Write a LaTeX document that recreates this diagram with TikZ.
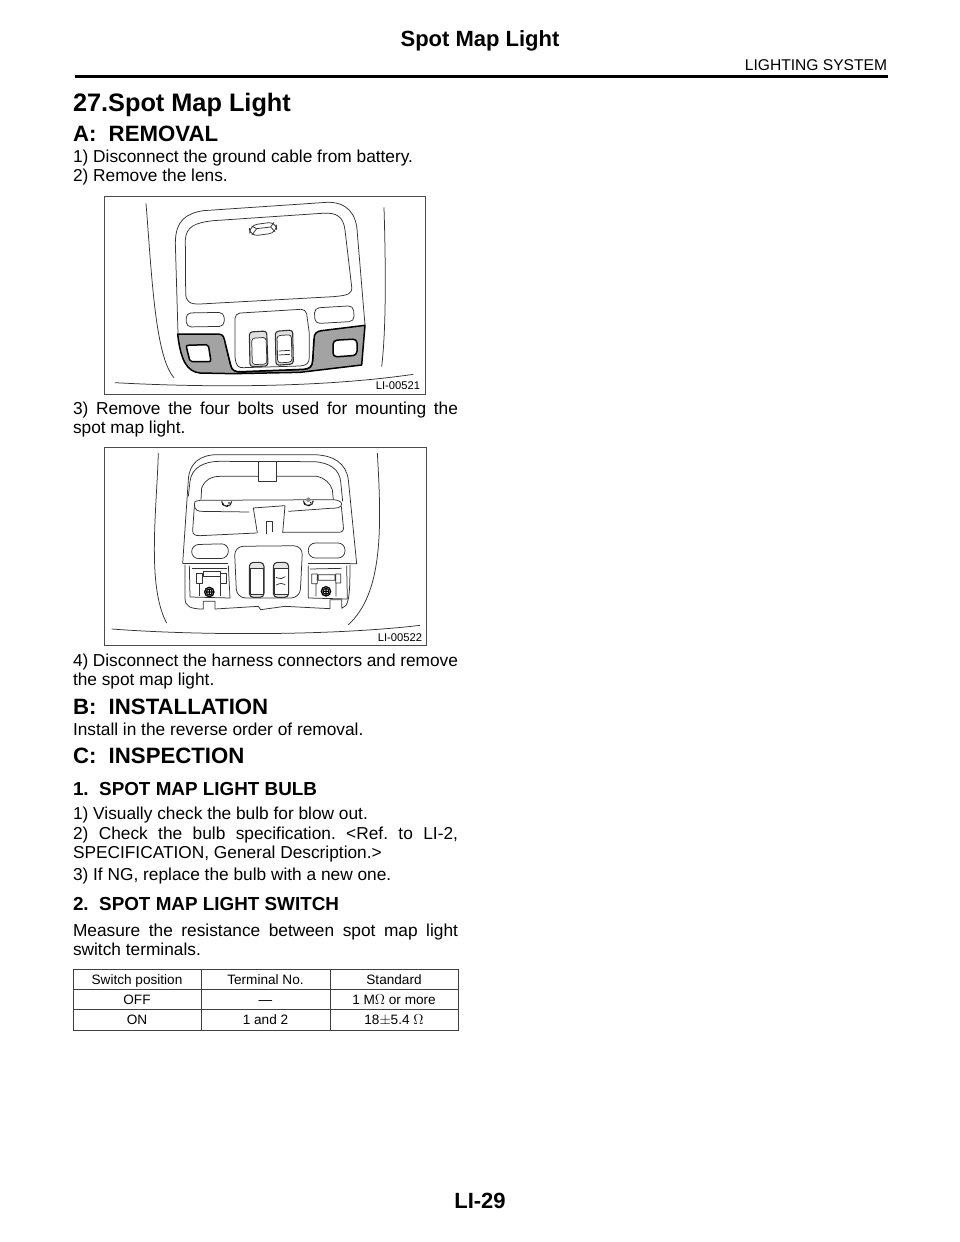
\documentclass[tikz,border=0pt]{standalone}
\usepackage{fontspec}
\setmainfont{Liberation Sans}
\usetikzlibrary{positioning}
\usepackage{tikz}
\newcommand{\Ohm}{$\Omega$}
\frenchspacing
\tikzset{
  every node/.style={inner sep=0pt,outer sep=0pt},
  body text/.style={anchor=base west,font=\fontsize{17.3}{19}\selectfont},
  pagehead/.style={font=\fontsize{22}{26}\selectfont\bfseries},
  section head/.style={anchor=base west,font=\fontsize{22.2}{26}\selectfont\bfseries},
  sub head/.style={anchor=base west,font=\fontsize{18.85}{22}\selectfont\bfseries},
  cell text/.style={anchor=base,font=\fontsize{13.6}{16}\selectfont},
  fig label/.style={anchor=base east,font=\fontsize{11.2}{14}\selectfont},
  fig frame/.style={draw=black!70,line width=0.9pt},
  thin art/.style={draw=black!80,line width=0.75pt,line join=round},
  lens art/.style={draw=black,line width=1.5pt,line join=round}
}
\begin{document}
\begin{tikzpicture}[x=1pt,y=-1pt]
  \useasboundingbox (0,0) rectangle (960,1242);
  \fill[white] (0,0) rectangle (960,1242);

  % page head
  \node[pagehead,anchor=base] (title) at (480,46) {Spot Map Light};
  \node[anchor=base east,font=\fontsize{15.6}{18}\selectfont] (chapter) at (887,70) {LIGHTING SYSTEM};
  \draw[line width=3.6pt] (75,76.5)--(888,76.5);

  \node[anchor=base west,font=\fontsize{25.3}{30}\selectfont\bfseries] (main) at (73,111) {27.Spot Map Light};
  \node[section head] (a) at (73,141) {A:\ \ REMOVAL};
  \node[body text] (a1) at (73,162) {1) Disconnect the ground cable from battery.};
  \node[body text] (a2) at (73,181) {2) Remove the lens.};
  \node[body text] (a3) at (73,414) {\makebox[385pt][s]{3) Remove the four bolts used for mounting the}};
  \node[body text] (a3b) at (73,433) {spot map light.};
  \node[body text] (a4) at (73,666) {\makebox[385pt][s]{4) Disconnect the harness connectors and remove}};
  \node[body text] (a4b) at (73,685) {the spot map light.};

  \node[section head] (b) at (73,714) {B:\ \ INSTALLATION};
  \node[body text] (b1) at (73,735) {Install in the reverse order of removal.};

  \node[section head] (c) at (73,763) {C:\ \ INSPECTION};
  \node[sub head] (c1) at (73,795) {1.\ \ SPOT MAP LIGHT BULB};
  \node[body text] (c11) at (73,819) {1) Visually check the bulb for blow out.};
  \node[body text] (c12) at (73,839) {\makebox[385pt][s]{2) Check the bulb specification. <Ref. to LI-2,}};
  \node[body text] (c12b) at (73,858) {SPECIFICATION, General Description.>};
  \node[body text] (c13) at (73,880) {3) If NG, replace the bulb with a new one.};
  \node[sub head] (c2) at (73,910) {2.\ \ SPOT MAP LIGHT SWITCH};
  \node[body text] (c21) at (73,936) {\makebox[385pt][s]{Measure the resistance between spot map light}};
  \node[body text] (c21b) at (73,955) {switch terminals.};

  % first figure
  \begin{scope}[shift={(100,190)},scale=1/3]
    \fill[white] (12,18) rectangle (975,612);
    \draw[fig frame] (12,18) rectangle (975,612);
    \draw[thin art] (138,40) .. controls (155,250) and (165,500) .. (222,563);
    \draw[thin art] (852,52) .. controls (858,250) and (858,420) .. (845,530);
    \draw[thin art] (45,578) .. controls (300,592) and (650,595) .. (940,553);
    \draw[thin art] (234,430) -- (226,160) .. controls (226,90) and (260,70) .. (310,62)
      -- (680,37) .. controls (740,35) and (770,70) .. (772,130) -- (795,405);
    \draw[thin art] (256,150) .. controls (258,110) and (285,98) .. (340,92) -- (665,70)
      .. controls (710,66) and (730,80) .. (735,120) -- (755,290)
      .. controls (757,312) and (745,316) .. (700,320) -- (300,342)
      .. controls (268,343) and (258,335) .. (257,310) -- cycle;
    \draw[thin art,rounded corners=8pt] (448,106) -- (528,95) -- (531,128) -- (450,139) -- cycle;
    \draw[thin art] (470,116) -- (512,111) (455,108) -- (470,116) (522,97) -- (512,111)
      (456,135) -- (470,116) (525,125) -- (512,111);
    \draw[thin art,rounded corners=5pt] (258,369) -- (372,367) -- (373,409) -- (259,411) -- cycle;
    \draw[thin art,rounded corners=5pt] (643,354) -- (760,347) -- (763,394) -- (645,401) -- cycle;
    \draw[thin art,rounded corners=5pt] (405,440) -- (405,370) -- (618,357) -- (628,430);
    % lens outline
    \draw[lens art,fill=black!36] (233,432) -- (355,432) .. controls (372,432) and (372,445) .. (376,460)
      -- (392,525) .. controls (396,542) and (405,546) .. (425,545) -- (610,538)
      .. controls (630,536) and (637,530) .. (638,510) -- (642,445)
      .. controls (643,430) and (650,424) .. (665,422) -- (795,406) -- (785,525)
      -- (600,547) -- (400,551) -- (300,549)
      .. controls (260,545) and (242,510) .. (233,432) -- cycle;
    \fill[white] (376,460) -- (392,525) .. controls (396,542) and (405,546) .. (425,545) -- (610,538)
      .. controls (630,536) and (637,530) .. (638,510) -- (642,445) -- (628,430) -- (405,440) -- cycle;
    \draw[lens art] (376,460) -- (392,525) .. controls (396,542) and (405,546) .. (425,545) -- (610,538)
      .. controls (630,536) and (637,530) .. (638,510) -- (642,445);
    \draw[thin art] (405,440) -- (405,500) .. controls (408,530) and (415,533) .. (430,533) -- (600,528)
      .. controls (620,526) and (628,520) .. (628,500) -- (628,430);
    \draw[lens art,fill=white,rounded corners=2pt] (258,466) -- (325,464) -- (333,515) -- (270,515) -- cycle;
    \draw[lens art,fill=white,rounded corners=4pt] (699,451) -- (771,447) -- (771,496) -- (699,501) -- cycle;
    % switches
    \draw[thin art,line width=1.1pt,fill=black!12,rounded corners=3pt] (448,426) -- (500,423) -- (504,528) -- (450,530) -- cycle;
    \draw[thin art,fill=white,rounded corners=3pt] (455,445) -- (498,442) -- (501,522) -- (457,524) -- cycle;
    \draw[thin art,line width=1.1pt,fill=black!12,rounded corners=3pt] (526,424) -- (578,420) -- (580,522) -- (528,526) -- cycle;
    \draw[thin art,fill=white,rounded corners=3pt] (531,437) -- (574,434) -- (576,516) -- (533,519) -- cycle;
    \draw[thin art] (536,483) -- (570,481) (536,495) -- (570,493);
    \node[fig label] (lbl1) at (960,598) {LI-00521};
  \end{scope}

  % second figure
  \begin{scope}[shift={(100,443)},scale=1/3]
    \fill[white] (12,14) rectangle (978,606);
    \draw[fig frame] (12,14) rectangle (978,606);
    \draw[thin art] (175,30) .. controls (170,200) and (140,430) .. (200,540);
    \draw[thin art] (832,30) .. controls (845,250) and (850,450) .. (745,545);
    \draw[thin art] (35,558) .. controls (300,578) and (700,578) .. (960,547);
    \draw[thin art] (248,362) -- (265,110) .. controls (268,60) and (300,36) .. (350,35)
      -- (640,35) .. controls (700,36) and (738,60) .. (745,110) -- (770,362) -- (750,362);
    \draw[thin art] (265,160) -- (270,115) .. controls (275,75) and (310,55) .. (360,55)
      -- (640,56) .. controls (690,58) and (718,80) .. (722,115) -- (728,175);
    \draw[thin art] (303,170) -- (305,135) .. controls (315,110) and (335,100) .. (360,100) -- (475,100)
      (528,100) -- (650,100) .. controls (675,105) and (690,120) .. (697,140) -- (700,170);
    \draw[thin art] (475,55) -- (475,115) -- (528,115) -- (528,55);
    \draw[thin art] (300,172) -- (700,170) .. controls (722,172) and (730,180) .. (722,190)
      .. controls (715,197) and (700,195) .. (690,196) -- (565,205);
    \draw[thin art] (448,207) -- (300,205) .. controls (285,203) and (280,190) .. (285,175) -- (300,172);
    \draw[thin art] (283,190) -- (278,262) .. controls (278,275) and (285,278) .. (300,278) -- (470,270)
      (548,268) -- (715,268) .. controls (728,268) and (732,262) .. (730,250) -- (724,190);
    \draw[thin art,fill=white] (472,270) -- (460,195) -- (555,188) -- (548,270);
    \draw[thin art] (498,272) -- (498,235) -- (518,235) -- (518,268);
    % bolts on the upper edge
    \draw[thin art,line width=1.2pt] (365,175) arc (180:0:15);
    \draw[thin art,line width=1.2pt] (610,173) arc (180:0:15);
    \fill (369,183) circle (3) (382,188) circle (3) (387,180) circle (2.5);
    \fill (614,182) circle (3) (627,187) circle (3) (632,179) circle (2.5);
    \fill[black!45] (625,170) circle (7);
    % pads and switch panel
    \draw[thin art,rounded corners=7pt] (275,305) -- (385,302) -- (385,346) -- (275,347) -- cycle;
    \draw[thin art,rounded corners=7pt] (625,300) -- (735,300) -- (735,345) -- (625,345) -- cycle;
    \draw[thin art,rounded corners=9pt] (403,310) -- (608,308) -- (600,465) -- (410,465) -- cycle;
    \draw[thin art,line width=1.1pt,fill=black!10,rounded corners=4pt] (448,358) rectangle (492,463);
    \draw[thin art,line width=1.1pt,fill=black!10,rounded corners=4pt] (520,358) rectangle (566,463);
    \draw[thin art,fill=white] (450,376) -- (490,376) -- (490,455) -- (450,455) -- cycle;
    \draw[thin art,fill=white] (522,376) -- (564,376) -- (564,455) -- (522,455) -- cycle;
    \draw[thin art] (528,403) .. controls (540,408) and (550,408) .. (556,401)
      (528,426) .. controls (540,420) and (550,420) .. (556,425);
    % lower housing outline
    \draw[thin art] (248,362) -- (385,362) (625,362) -- (750,362);
    \draw[thin art] (255,365) -- (255,465) .. controls (255,490) and (270,498) .. (310,498) -- (310,475) -- (345,475) -- (345,498)
      -- (475,490) -- (482,500) -- (555,490) -- (690,497) -- (690,470) -- (725,470) -- (725,496)
      .. controls (745,490) and (750,470) .. (750,365);
    \draw[thin art] (268,368) -- (270,462) -- (390,465) -- (385,368);
    \draw[thin art] (625,368) -- (625,465) -- (742,468) -- (740,368);
    % left connector
    \draw[thin art] (275,375) -- (380,375) (310,385) -- (360,385) -- (360,400) -- (310,400) -- cycle
      (290,390) -- (307,390) -- (307,420) -- (290,420) -- cycle
      (362,392) -- (378,392) -- (378,422) -- (362,422) -- cycle
      (298,422) -- (298,460) (360,422) -- (360,460);
    \draw[line width=1.3pt,fill=white] (328,447) circle (14);
    \draw[line width=1.1pt] (328,447) circle (9) (320,447) -- (336,447) (328,439) -- (328,455);
    % right connector
    \draw[thin art] (630,378) -- (725,376) (655,395) -- (705,395) -- (705,412) -- (655,412) -- cycle
      (635,393) -- (652,393) -- (652,422) -- (635,422) -- cycle
      (707,393) -- (722,393) -- (722,420) -- (707,420) -- cycle
      (648,422) -- (648,460) (708,422) -- (708,460);
    \draw[line width=1.3pt,fill=white] (678,445) circle (14);
    \draw[line width=1.1pt] (678,445) circle (9) (670,445) -- (686,445) (678,437) -- (678,453);
    \node[fig label] (lbl2) at (966,594) {LI-00522};
  \end{scope}

  % table
  \draw[draw=black!75,line width=0.9pt] (73,969) rectangle (458,1030);
  \draw[draw=black!75,line width=0.9pt] (73,989.5)--(458,989.5) (73,1009.5)--(458,1009.5)
    (201,969)--(201,1030) (330,969)--(330,1030);
  \node[cell text] (h1) at (137,984) {Switch position};
  \node[cell text] (h2) at (265.5,984) {Terminal No.};
  \node[cell text] (h3) at (394,984) {Standard};
  \node[cell text] (r11) at (137,1004) {OFF};
  \node[cell text] (r12) at (265.5,1004) {—};
  \node[cell text] (r13) at (394,1004) {1 M\Ohm{} or more};
  \node[cell text] (r21) at (137,1024.5) {ON};
  \node[cell text] (r22) at (265.5,1024.5) {1 and 2};
  \node[cell text] (r23) at (394,1024.5) {18$\pm$5.4 \Ohm};

  \node[pagehead,anchor=base] (pageno) at (480,1208) {LI-29};
\end{tikzpicture}
\end{document}
